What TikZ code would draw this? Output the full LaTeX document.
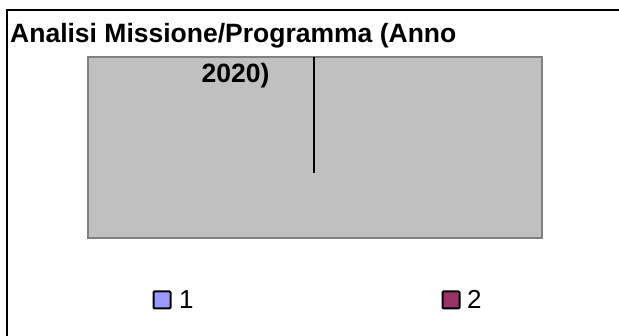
\documentclass[tikz,border=0pt]{standalone}
\usepackage{fontspec}
\setmainfont{Liberation Sans}
\usetikzlibrary{positioning}

\definecolor{plotgray}{HTML}{C0C0C0}
\definecolor{plotedge}{HTML}{808080}
\definecolor{serieslilac}{HTML}{9999FF}
\definecolor{seriesplum}{HTML}{993366}

\begin{document}
\begin{tikzpicture}[x=1pt, y=-1pt,
    titletext/.style = {inner sep=0pt, anchor=base west, font=\fontsize{26.5}{26.5}\selectfont\bfseries},
    plotarea/.style = {draw=plotedge, line width=2pt, fill=plotgray},
    legendkey/.style = {draw=black, line width=2pt, rounded corners=1pt, minimum size=17pt, inner sep=0pt},
    legendtext/.style = {inner sep=0pt, anchor=base west, font=\fontsize{26}{26}\selectfont}]
                \useasboundingbox (0, 0) rectangle (619, 336);
                \draw[line width=1.5pt] (7, 10) rectangle (640, 360);

                \node[plotarea, minimum width=454pt, minimum height=181pt, anchor=north west] at (87, 56) (plot) {};
                \coordinate (bartop) at (314, 57);
                \coordinate (barbot) at (314, 173);
                \draw[line width=2pt] (bartop) -- (barbot);

                \node[titletext] at (10, 43) (title1) {Analisi Missione/Programma (Anno};
                \node[titletext, anchor=base] at (235.5, 83) (title2) {2020)};

                \node[legendkey, fill=serieslilac] at (162, 300) (key1) {};
                \node[legendtext] at (179, 309) (lab1) {1};
                \node[legendkey, fill=seriesplum] at (451, 300) (key2) {};
                \node[legendtext] at (467, 309) (lab2) {2};
            \end{tikzpicture}
\end{document}
